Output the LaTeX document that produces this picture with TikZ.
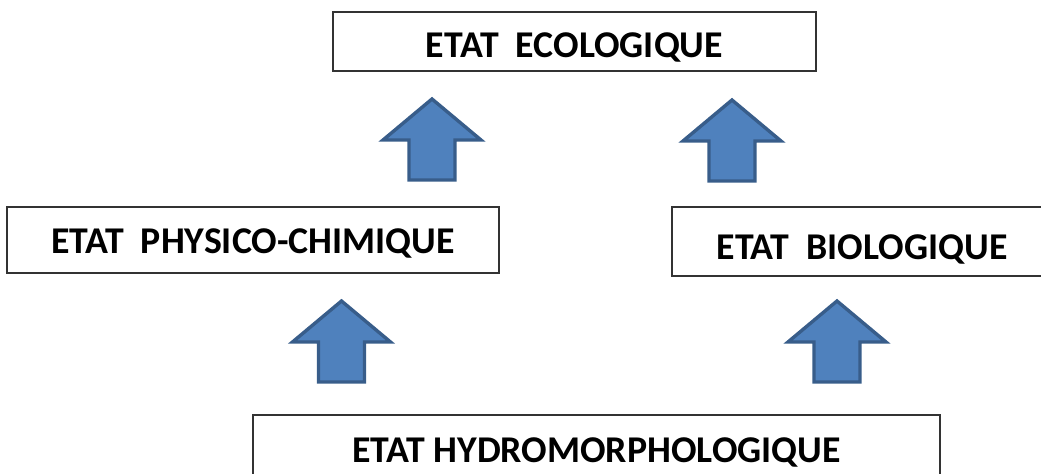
\documentclass[tikz,border=0pt]{standalone}
\usepackage{fontspec}
\setmainfont{Carlito}
\usepackage{tikz}

\definecolor{arrowfill}{HTML}{4F81BD}
\definecolor{arrowline}{HTML}{385D8A}

\tikzset{
  statebox/.style={draw=black!80, line width=0.65pt, fill=white, inner sep=0pt,
    text depth=0pt, text height=12pt,
    font=\fontsize{18.9}{22}\selectfont\bfseries},
  uparrow/.style={fill=arrowfill, draw=arrowline, line width=1.7pt, line join=miter}
}

\begin{document}
\begin{tikzpicture}[x=0.5pt, y=-0.5pt]
  \useasboundingbox (0,0) rectangle (1041,473);

  % boxes
  \node[statebox, minimum width=241.5pt, minimum height=29.5pt, text height=16pt]
    (eco) at (574.5,41.5) {ETAT\ \ ECOLOGIQUE};
  \node[statebox, minimum width=246pt, minimum height=33pt, text height=13pt]
    (phys) at (253,240) {ETAT\ \ PHYSICO-CHIMIQUE};
  \node[statebox, minimum width=190pt, minimum height=34.5pt, text height=18pt]
    (bio) at (862,241.5) {ETAT\ \ BIOLOGIQUE};
  \node[statebox, minimum width=343.5pt, minimum height=35pt]
    (hydro) at (596.5,450) {ETAT HYDROMORPHOLOGIQUE};

  % block arrows, given by the middle of their foot
  \foreach \x/\y [count=\n] in {432/180, 732/181, 341.5/382, 837/382} {
    \draw[uparrow] (\x,\y) coordinate (foot\n)
      -- ++(-23,0) -- ++(0,-40) -- ++(-26,0) -- ++(49,-41)
      -- ++(49,41) -- ++(-26,0) -- ++(0,40) -- cycle;
  }
\end{tikzpicture}
\end{document}
